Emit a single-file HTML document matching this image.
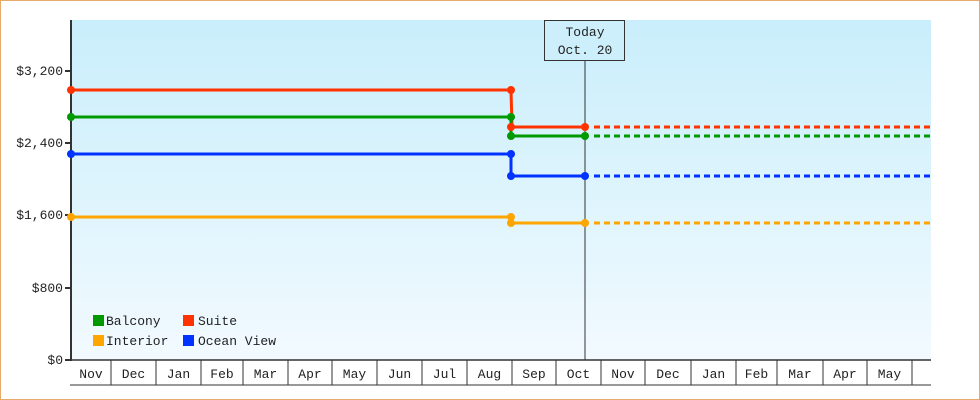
<!DOCTYPE html>
<html><head><style>
html,body{margin:0;padding:0;background:#fff}
svg{display:block}
text{font-family:"Liberation Mono","DejaVu Sans Mono",monospace;font-size:13px;fill:#222}
</style></head><body>
<svg width="980" height="400" viewBox="0 0 980 400">
<defs>
<linearGradient id="bg" x1="0" y1="0" x2="0" y2="1">
<stop offset="0" stop-color="#c9eefb"/><stop offset="1" stop-color="#f2faff"/>
</linearGradient>
</defs>
<rect x="0.5" y="0.5" width="979" height="399" fill="#fff" stroke="#e8aa6a"/>
<rect x="71" y="20" width="860" height="340" fill="url(#bg)"/>
<!-- y axis -->
<line x1="71" y1="20" x2="71" y2="361" stroke="#333" stroke-width="2"/>
<line x1="70" y1="360" x2="931" y2="360" stroke="#333" stroke-width="1.5"/>
<g stroke="#333" stroke-width="2">
<line x1="65" y1="71" x2="71" y2="71"/><line x1="65" y1="143" x2="71" y2="143"/>
<line x1="65" y1="215" x2="71" y2="215"/><line x1="65" y1="288" x2="71" y2="288"/>
<line x1="65" y1="360" x2="71" y2="360"/>
</g>
<g text-anchor="end">
<text x="63" y="75">$3,200</text><text x="63" y="147">$2,400</text>
<text x="63" y="219">$1,600</text><text x="63" y="292">$800</text><text x="63" y="364">$0</text>
</g>
<!-- x axis boxes -->
<line x1="70" y1="385" x2="931" y2="385" stroke="#333"/>
<g stroke="#333">
<line x1="111" y1="360" x2="111" y2="385"/><line x1="156" y1="360" x2="156" y2="385"/>
<line x1="201" y1="360" x2="201" y2="385"/><line x1="243" y1="360" x2="243" y2="385"/>
<line x1="288" y1="360" x2="288" y2="385"/><line x1="332" y1="360" x2="332" y2="385"/>
<line x1="377" y1="360" x2="377" y2="385"/><line x1="422" y1="360" x2="422" y2="385"/>
<line x1="467" y1="360" x2="467" y2="385"/><line x1="512" y1="360" x2="512" y2="385"/>
<line x1="556" y1="360" x2="556" y2="385"/><line x1="601" y1="360" x2="601" y2="385"/>
<line x1="645" y1="360" x2="645" y2="385"/><line x1="691" y1="360" x2="691" y2="385"/>
<line x1="736" y1="360" x2="736" y2="385"/><line x1="777" y1="360" x2="777" y2="385"/>
<line x1="823" y1="360" x2="823" y2="385"/><line x1="867" y1="360" x2="867" y2="385"/>
<line x1="912" y1="360" x2="912" y2="385"/>
</g>
<g text-anchor="middle">
<text x="91" y="378">Nov</text><text x="133.5" y="378">Dec</text><text x="178.5" y="378">Jan</text>
<text x="222" y="378">Feb</text><text x="265.5" y="378">Mar</text><text x="310" y="378">Apr</text>
<text x="354.5" y="378">May</text><text x="399.5" y="378">Jun</text><text x="444.5" y="378">Jul</text>
<text x="489.5" y="378">Aug</text><text x="534" y="378">Sep</text><text x="578.5" y="378">Oct</text>
<text x="623" y="378">Nov</text><text x="668" y="378">Dec</text><text x="713.5" y="378">Jan</text>
<text x="756.5" y="378">Feb</text><text x="800" y="378">Mar</text><text x="845" y="378">Apr</text>
<text x="889.5" y="378">May</text>
</g>
<!-- today -->
<line x1="585" y1="60" x2="585" y2="360" stroke="#333"/>
<rect x="544.5" y="20.5" width="80" height="40" fill="#cdeffb" stroke="#333"/>
<text x="585" y="36" text-anchor="middle">Today</text>
<text x="585" y="54" text-anchor="middle">Oct. 20</text>
<!-- series -->
<g fill="none" stroke-width="3">
<polyline points="71,90 511,90 512,127 585,127" stroke="#ff3300"/>
<polyline points="71,117 511,117 511,136 585,136" stroke="#009900"/>
<polyline points="71,154 511,154 511,176 585,176" stroke="#0033ff"/>
<polyline points="71,217 511,217 511,223 585,223" stroke="#ffa500"/>
<g stroke-dasharray="6,4">
<line x1="594" y1="127" x2="931" y2="127" stroke="#ff3300"/>
<line x1="594" y1="136" x2="931" y2="136" stroke="#009900"/>
<line x1="594" y1="176" x2="931" y2="176" stroke="#0033ff"/>
<line x1="594" y1="223" x2="931" y2="223" stroke="#ffa500"/>
</g>
</g>
<g>
<circle cx="71" cy="90" r="4" fill="#ff3300"/><circle cx="511" cy="90" r="4" fill="#ff3300"/><circle cx="511" cy="127" r="4" fill="#ff3300"/><circle cx="585" cy="127" r="4" fill="#ff3300"/>
<circle cx="71" cy="117" r="4" fill="#009900"/><circle cx="511" cy="117" r="4" fill="#009900"/><circle cx="511" cy="136" r="4" fill="#009900"/><circle cx="585" cy="136" r="4" fill="#009900"/>
<circle cx="71" cy="154" r="4" fill="#0033ff"/><circle cx="511" cy="154" r="4" fill="#0033ff"/><circle cx="511" cy="176" r="4" fill="#0033ff"/><circle cx="585" cy="176" r="4" fill="#0033ff"/>
<circle cx="71" cy="217" r="4" fill="#ffa500"/><circle cx="511" cy="217" r="4" fill="#ffa500"/><circle cx="511" cy="223" r="4" fill="#ffa500"/><circle cx="585" cy="223" r="4" fill="#ffa500"/>
</g>
<!-- legend -->
<rect x="93" y="315" width="11" height="11" fill="#009900"/><text x="106" y="325">Balcony</text>
<rect x="183" y="315" width="11" height="11" fill="#ff3300"/><text x="198" y="325">Suite</text>
<rect x="93" y="335" width="11" height="11" fill="#ffa500"/><text x="106" y="345">Interior</text>
<rect x="183" y="335" width="11" height="11" fill="#0033ff"/><text x="198" y="345">Ocean View</text>
</svg>
</body></html>
